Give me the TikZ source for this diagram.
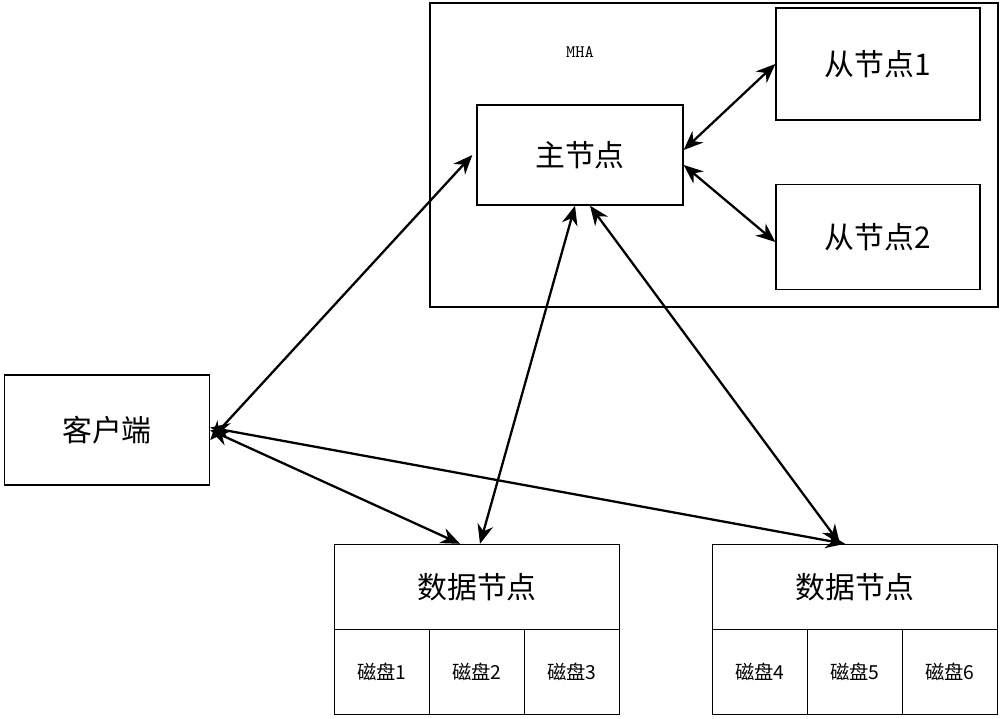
\documentclass[tikz,border=0pt]{standalone}
\usepackage{fontspec}
\setmainfont{Liberation Serif}
\newfontfamily\cjk{Noto Sans CJK SC}
\usetikzlibrary{arrows.meta,positioning,calc}
\begin{document}
\begin{tikzpicture}[x=0.02cm,y=-0.02cm,
    box/.style={rectangle, draw, thick, inner sep=0pt, font=\cjk\fontsize{17}{17}\selectfont},
    disk/.style={rectangle, draw, thick, inner sep=0pt, minimum width=1.9cm, minimum height=1.7cm, font=\cjk\fontsize{11}{11}\selectfont},
    link/.style={{Stealth[length=11pt,width=9pt]}-{Stealth[length=11pt,width=9pt]}, line width=1.3pt}
]
    \useasboundingbox (0,0) rectangle (1000,718);
    % MHA group
    \node[box, minimum width=11.36cm, minimum height=6.08cm] (mha) at (714,155) {};
    \node[font=\ttfamily] (mhalabel) at (580,52) {MHA};
    \node[box, minimum width=4.12cm, minimum height=2cm] (main) at (580,155) {主节点};
    \node[box, minimum width=4.08cm, minimum height=2.24cm] (s1) at (878,64) {从节点1};
    \node[box, minimum width=4.08cm, minimum height=2.1cm] (s2) at (878,237) {从节点2};

    % Client
    \node[box, minimum width=4.1cm, minimum height=2.2cm] (client) at (107,430) {客户端};

    % Data nodes
    \node[box, minimum width=5.7cm, minimum height=1.7cm] (d1) at (477,587) {数据节点};
    \node[disk] (k1) at (382,672) {磁盘1};
    \node[disk] (k2) at (477,672) {磁盘2};
    \node[disk] (k3) at (572,672) {磁盘3};
    \node[box, minimum width=5.7cm, minimum height=1.7cm] (d2) at (855,587) {数据节点};
    \node[disk] (k4) at (760,672) {磁盘4};
    \node[disk] (k5) at (855,672) {磁盘5};
    \node[disk] (k6) at (950,672) {磁盘6};

    % Links
    \draw[link] ([yshift=-0.2cm]client.east) -- ([xshift=-0.08cm]main.west);
    \draw[link] (client.east) -- ([xshift=-0.34cm]d1.north);
    \draw[link] ([yshift=0.05cm]client.east) -- ([xshift=-0.2cm]d2.north);
    \draw[link] ([xshift=-0.1cm]main.south) -- ([xshift=0.06cm]d1.north);
    \draw[link] ([xshift=0.2cm]main.south) -- ([xshift=-0.3cm]d2.north);
    \draw[link] ([yshift=0.1cm]main.east) -- (s1.west);
    \draw[link] ([yshift=-0.2cm]main.east) -- ([yshift=-0.1cm]s2.west);
\end{tikzpicture}
\end{document}
